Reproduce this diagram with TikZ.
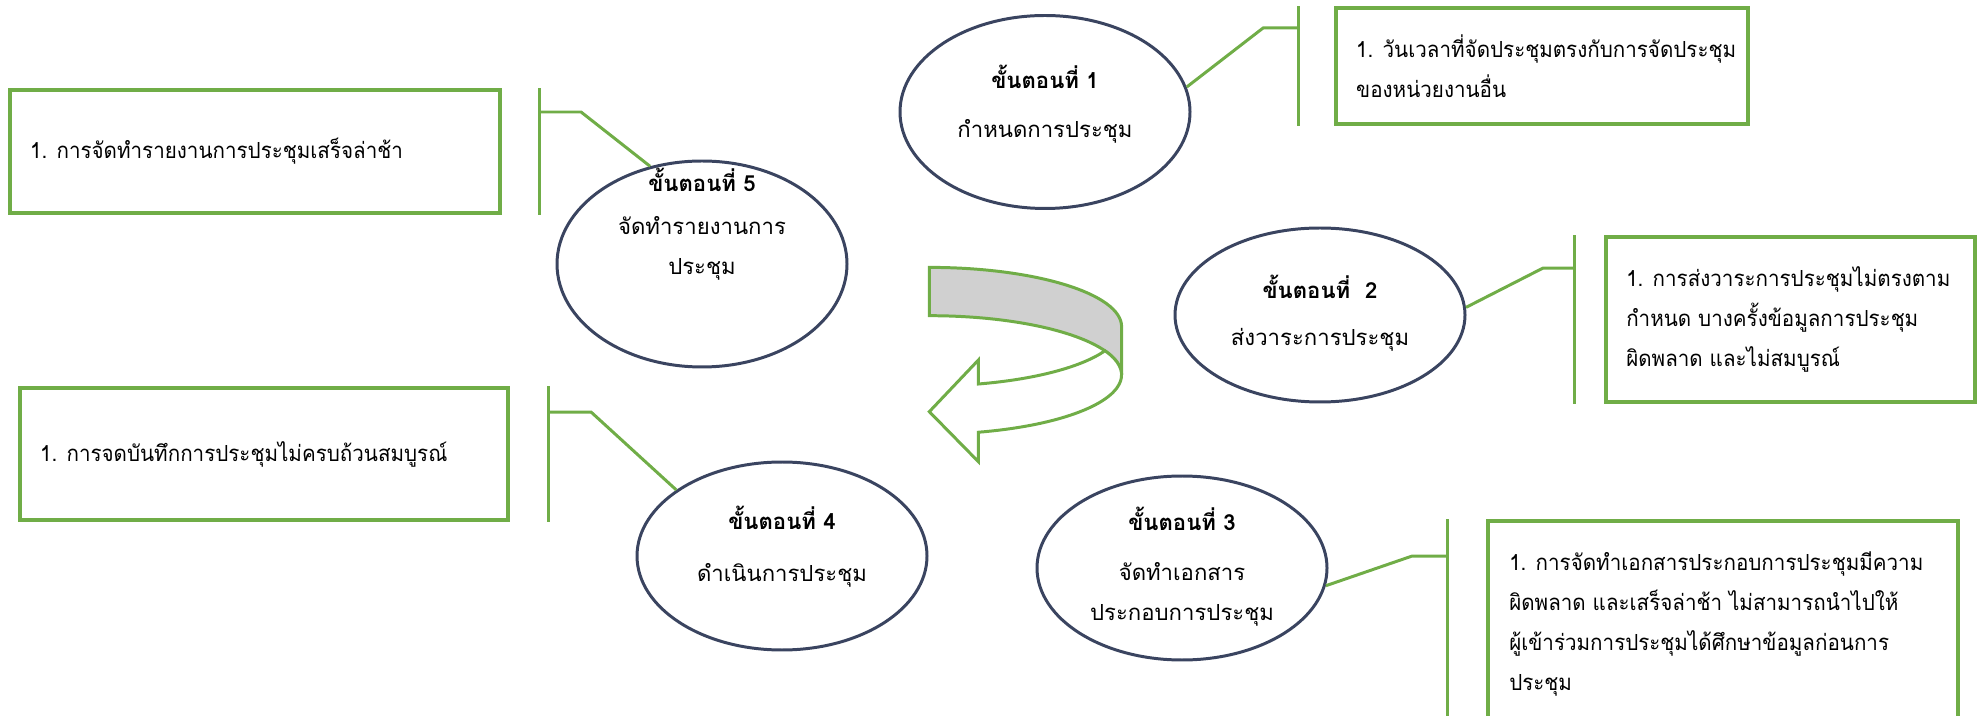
\documentclass[tikz,border=0pt]{standalone}
\usepackage{fontspec}
\usepackage{tikz}
\usetikzlibrary{positioning,calc,shapes.geometric}
\newfontfamily\thaifont[Script=Thai]{Loma}
\newfontfamily\thainarrow[Script=Thai, FakeStretch=0.93]{Loma}
\definecolor{stepline}{HTML}{3A4460}
\definecolor{riskgreen}{HTML}{70AD47}
\definecolor{bandgrey}{HTML}{D0D0D0}

\begin{document}
\begin{tikzpicture}[scale=0.10]
			\tikzstyle{every node}+=[inner sep=0pt, font=\thaifont\fontsize{6.3}{11.4}\selectfont]
			\tikzstyle{stepellipse}=[draw=stepline, line width=0.85pt, ellipse, minimum width=29mm, minimum height=18.6mm]
			\tikzstyle{steptitle}=[font=\thaifont\bfseries\fontsize{6.3}{11.4}\selectfont]
			\tikzstyle{stepsub}=[align=center]
			\tikzstyle{riskbox}=[draw=riskgreen, line width=0.9pt]
			\tikzstyle{risktext}=[anchor=west, align=left, font=\thainarrow\fontsize{6.3}{11.4}\selectfont]
			\tikzstyle{link}=[draw=riskgreen, line width=0.85pt]
			\tikzstyle{turn}=[draw=riskgreen, line width=0.85pt, line join=miter]
			\useasboundingbox (0,0) rectangle (198,-71.6);
			\node [stepellipse, minimum height=19.3mm] (s1) at (104.5,-11.2) {};
			\node [steptitle] (t1) at (104.5,-7.7) {ขั้นตอนที่ 1};
			\node [stepsub] (d1) at (104.5,-13.1) {กำหนดการประชุม};
			\node [stepellipse, minimum height=17.4mm] (s2) at (132.0,-31.5) {};
			\node [steptitle] (t2) at (132.0,-28.7) {ขั้นตอนที่~~2};
			\node [stepsub] (d2) at (132.0,-34.0) {ส่งวาระการประชุม};
			\node [stepellipse, minimum height=18.4mm] (s3) at (118.2,-56.8) {};
			\node [steptitle] (t3) at (118.2,-51.9) {ขั้นตอนที่ 3};
			\node [stepsub] (d3) at (118.2,-59.4) {จัดทำเอกสาร\\ประกอบการประชุม};
			\node [stepellipse, minimum height=18.8mm] (s4) at (78.2,-55.6) {};
			\node [steptitle] (t4) at (78.2,-51.8) {ขั้นตอนที่ 4};
			\node [stepsub] (d4) at (78.2,-57.5) {ดำเนินการประชุม};
			\node [stepellipse, minimum height=20.6mm] (s5) at (70.2,-26.4) {};
			\node [steptitle] (t5) at (70.2,-18.0) {ขั้นตอนที่ 5};
			\node [stepsub] (d5) at (70.2,-24.8) {จัดทำรายงานการ\\ประชุม};
			\node [riskbox, minimum width=41.2mm, minimum height=11.6mm] (p1) at (154.2,-6.6) {};
			\node [risktext] (r1) at ($(p1.west)+(2.1,0)$) {1. วันเวลาที่จัดประชุมตรงกับการจัดประชุม\\ของหน่วยงานอื่น};
			\node [riskbox, minimum width=36.9mm, minimum height=16.5mm] (p2) at (179.05,-31.95) {};
			\node [risktext] (r2) at ($(p2.west)+(2.1,0)$) {1. การส่งวาระการประชุมไม่ตรงตาม\\กำหนด บางครั้งข้อมูลการประชุม\\ผิดพลาด และไม่สมบูรณ์};
			\node [riskbox, minimum width=47mm, minimum height=20.6mm] (p3) at (172.3,-62.4) {};
			\node [risktext] (r3) at ($(p3.west)+(2.2,0)$) {1. การจัดทำเอกสารประกอบการประชุมมีความ\\ผิดพลาด และเสร็จล่าช้า ไม่สามารถนำไปให้\\ผู้เข้าร่วมการประชุมได้ศึกษาข้อมูลก่อนการ\\ประชุม};
			\node [riskbox, minimum width=48.8mm, minimum height=13.2mm] (p4) at (26.4,-45.4) {};
			\node [risktext] (r4) at ($(p4.west)+(2.1,0)$) {1. การจดบันทึกการประชุมไม่ครบถ้วนสมบูรณ์};
			\node [riskbox, minimum width=49mm, minimum height=12.3mm] (p5) at (25.5,-15.15) {};
			\node [risktext] (r5) at ($(p5.west)+(2.1,0)$) {1. การจัดทำรายงานการประชุมเสร็จล่าช้า};
			\coordinate (b1n) at ($(p1.north west)+(-3.6,0)$);
			\coordinate (b1s) at ($(p1.south west)+(-3.6,0)$);
			\coordinate (b2n) at ($(p2.north west)+(-3.0,0)$);
			\coordinate (b2s) at ($(p2.south west)+(-3.0,0)$);
			\coordinate (b3n) at ($(p3.north west)+(-3.9,0)$);
			\coordinate (b3s) at ($(p3.south west)+(-3.9,0)$);
			\coordinate (b4n) at ($(p4.north east)+(3.9,0)$);
			\coordinate (b4s) at ($(p4.south east)+(3.9,0)$);
			\coordinate (b5n) at ($(p5.north east)+(3.8,0)$);
			\coordinate (b5s) at ($(p5.south east)+(3.8,0)$);
			\draw [link] (b1n) -- (b1s);
			\draw [link] (b2n) -- (b2s);
			\draw [link] (b3n) -- (b3s);
			\draw [link] (b4n) -- (b4s);
			\draw [link] (b5n) -- (b5s);
			\coordinate (k1) at (126.3,-2.8);
			\coordinate (k2) at (154.3,-26.8);
			\coordinate (k3) at (141.2,-55.6);
			\coordinate (k4) at (59.1,-41.2);
			\coordinate (k5) at (58.1,-11.2);
			\draw [link] (s1.10) -- (k1) -- (k1 -| b1n);
			\draw [link] (s2.3) -- (k2) -- (k2 -| b2n);
			\draw [link] (s3.-7) -- (k3) -- (k3 -| b3n);
			\draw [link] (s4.148) -- (k4) -- (k4 -| b4n);
			\draw [link] (s5.118) -- (k5) -- (k5 -| b5n);
			\filldraw [turn, fill=bandgrey] (92.93,-26.74) arc [start angle=90, end angle=0, x radius=19.23, y radius=5.93] -- (112.16,-37.5) arc [start angle=0, end angle=90, x radius=19.23, y radius=5.93] -- cycle;
			\filldraw [turn, fill=white] (97.84,-38.4) arc [start angle=-75.2, end angle=-24, x radius=19.23, y radius=5.93] arc [start angle=24, end angle=-75.2, x radius=19.23, y radius=5.93] -- (97.84,-46.17) -- (92.93,-41.17) -- (97.84,-36.0) -- cycle;
\end{tikzpicture}
\end{document}
